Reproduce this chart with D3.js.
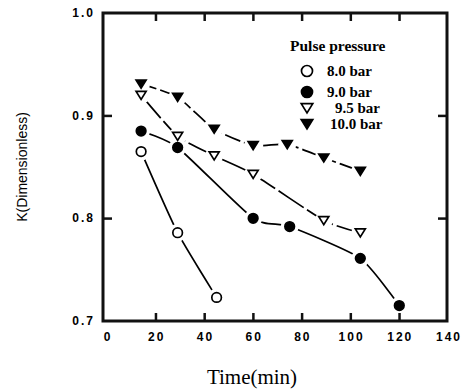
<!DOCTYPE html>
<html><head><meta charset="utf-8">
<script src="https://cdn.jsdelivr.net/npm/d3@7"></script>
<style>body{margin:0;background:#fff;}svg{display:block;}</style>
</head><body>
<svg id="c" width="467" height="390"></svg>
<script>
const xTicks = [0,20,40,60,80,100,120,140];
const yTicks = [0.7,0.8,0.9,1.0];
const seriesNames = ["8.0 bar","9.0 bar","9.5 bar","10.0 bar"];
const t80 = [14,29,45];
const k80 = [0.865,0.786,0.723];
const t90 = [14,29,60,75,104,120];
const k90 = [0.885,0.869,0.800,0.792,0.761,0.715];
const t95 = [14,29,44,60,89,104];
const k95 = [0.920,0.880,0.861,0.843,0.798,0.786];
const t100 = [14,29,44,60,74,89,104];
const k100 = [0.931,0.918,0.887,0.871,0.872,0.859,0.846];

const svg = d3.select("#c");
const L=103,R=447,T=13,B=321;
const x = d3.scaleLinear().domain([0,140]).range([107,448]);
const y = d3.scaleLinear().domain([0.7,1.0]).range([B,T]);

const series = [
  {name:seriesNames[0], t:t80, k:k80, sym:"circle", fill:"#fff", dash:null},
  {name:seriesNames[1], t:t90, k:k90, sym:"circle", fill:"#000", dash:null},
  {name:seriesNames[2], t:t95, k:k95, sym:"tri", fill:"#fff", dash:"30,4"},
  {name:seriesNames[3], t:t100, k:k100, sym:"tri", fill:"#000", dash:"16,4"}
];

function marker(g, sym, fill, cx, cy, sc){
  sc = sc||1;
  if(sym==="circle"){
    g.append("circle").attr("cx",cx).attr("cy",cy).attr("r",4.8*sc)
     .attr("fill",fill).attr("stroke","#000").attr("stroke-width",1.7);
  } else {
    const s=5*sc;
    g.append("path").attr("d",`M${cx-s},${cy-s*0.75}L${cx+s},${cy-s*0.75}L${cx},${cy+s*0.85}Z`)
     .attr("fill",fill).attr("stroke","#000").attr("stroke-width",1.7).attr("stroke-linejoin","miter");
  }
}

const line = d3.line().x(d=>x(d[0])).y(d=>y(d[1])).curve(d3.curveCardinal.tension(0.4));
const gl = svg.append("g");
series.forEach(s=>{
  const pts = s.t.map((t,i)=>[t,s.k[i]]);
  const p = gl.append("path").attr("d",line(pts)).attr("fill","none").attr("stroke","#000")
    .attr("stroke-width",1.7);
  if(s.dash) p.attr("stroke-dasharray",s.dash);
});
series.forEach(s=>{
  s.t.forEach((t,i)=>{
    gl.append("circle").attr("cx",x(t)).attr("cy",y(s.k[i])).attr("r",9).attr("fill","#fff");
  });
});
series.forEach(s=>{
  s.t.forEach((t,i)=>marker(gl,s.sym,s.fill,x(t),y(s.k[i])));
});

// tick labels
svg.append("g").selectAll("text").data(xTicks).join("text")
  .attr("x",d=>x(d)+1).attr("y",341).attr("text-anchor","middle")
  .attr("font-family","Liberation Sans, Arial, sans-serif").attr("font-weight","bold").attr("font-size",12)
  .attr("letter-spacing",2).text(d=>d);
svg.append("g").selectAll("text").data(yTicks).join("text")
  .attr("x",95).attr("y",d=>y(d)+4).attr("text-anchor","end")
  .attr("font-family","Liberation Sans, Arial, sans-serif").attr("font-weight","bold").attr("font-size",12)
  .attr("letter-spacing",2).text(d=>d.toFixed(1));

// axis titles
svg.append("text").attr("x",252).attr("y",384).attr("text-anchor","middle")
  .attr("font-family","Liberation Serif, Times New Roman, serif").attr("font-size",21).text("Time(min)");
svg.append("text").attr("transform","translate(27,167) rotate(-90)").attr("text-anchor","middle")
  .attr("font-family","Liberation Sans, Arial, sans-serif").attr("font-size",14).text("K(Dimensionless)");

// legend
svg.append("text").attr("x",290).attr("y",51)
  .attr("font-family","Liberation Serif, Times New Roman, serif").attr("font-weight","bold").attr("font-size",15.5)
  .text("Pulse pressure");
const ly = [71,92,108,124];
const lx = [327,327,335,330];
series.forEach((s,i)=>{
  marker(svg,s.sym,s.fill,307,ly[i],1.15);
  svg.append("text").attr("x",lx[i]).attr("y",ly[i]+5)
    .attr("font-family","Liberation Serif, Times New Roman, serif").attr("font-weight","bold").attr("font-size",15)
    .text(s.name);
});

// ticks
xTicks.filter(v=>v>0 && v<140).forEach(v=>{
  svg.append("rect").attr("x",x(v)-1).attr("y",B-8).attr("width",2.5).attr("height",8).attr("fill","#111");
  svg.append("rect").attr("x",x(v)-1).attr("y",T).attr("width",2.5).attr("height",8).attr("fill","#111");
});
yTicks.filter(v=>v>0.7&&v<1.0).forEach(v=>{
  svg.append("rect").attr("x",L).attr("y",y(v)-1).attr("width",9).attr("height",2.5).attr("fill","#111");
  svg.append("rect").attr("x",R-9).attr("y",y(v)-1).attr("width",9).attr("height",2.5).attr("fill","#111");
});
// frame (last)
svg.append("rect").attr("x",L).attr("y",T).attr("width",R-L).attr("height",B-T)
  .attr("fill","none").attr("stroke","#111").attr("stroke-width",3);
</script>
</body></html>
